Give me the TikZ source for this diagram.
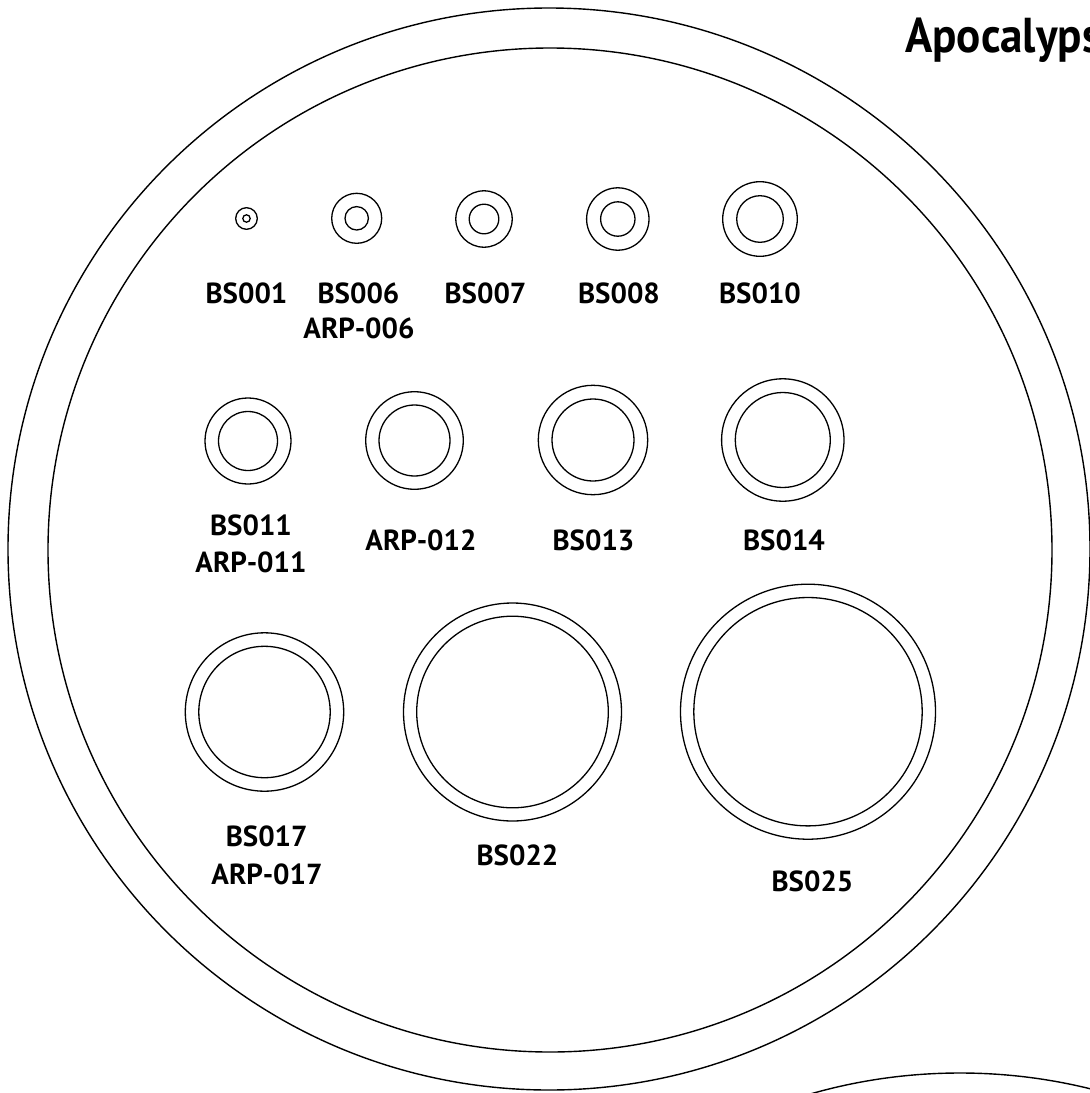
\documentclass[tikz,border=0pt]{standalone}
\usepackage{fontspec}
\setmainfont{PT Sans}
\begin{document}
\begin{tikzpicture}[x=1pt,y=-1pt,
  ring/.style={line width=1.3pt},
  disc/.style={line width=1.4pt},
  lab/.style={anchor=base,inner sep=0pt,font=\fontsize{29}{31}\selectfont\bfseries},
  ttl/.style={anchor=base west,inner sep=0pt,xscale=0.92,font=\fontsize{49}{53}\selectfont\bfseries}]
\useasboundingbox (0,0) rectangle (1090,1093);
% large discs
\draw[disc] (549,549) circle[radius=541pt];
\draw[disc] (550,550) circle[radius=502pt];
\draw[disc] (960,1614) circle[radius=541pt];
% title (cut at the right edge, as in the reference)
\node[ttl] (title) at (905,52) {Apocalyps};
% row 1
\draw[ring] (246.5,218.5) circle[radius=10.8pt] circle[radius=3.7pt];
\draw[ring] (356.7,218.3) circle[radius=25pt] circle[radius=11.7pt];
\draw[ring] (484,219) circle[radius=28.2pt] circle[radius=14.8pt];
\draw[ring] (617.8,219) circle[radius=31.2pt] circle[radius=17.2pt];
\draw[ring] (760,219) circle[radius=37.3pt] circle[radius=23.3pt];
\node[lab] (l001) at (246.5,303) {BS001};
\node[lab] (l006) at (358.5,303) {BS006};
\node[lab] (l006b) at (359,338) {ARP-006};
\node[lab] (l007) at (485.5,303) {BS007};
\node[lab] (l008) at (619,303) {BS008};
\node[lab] (l010) at (760,303) {BS010};
% row 2
\draw[ring] (248,441) circle[radius=43pt] circle[radius=29.5pt];
\draw[ring] (414.5,440.5) circle[radius=48.8pt] circle[radius=35.5pt];
\draw[ring] (593,440) circle[radius=54.7pt] circle[radius=41pt];
\draw[ring] (782.8,440) circle[radius=61.2pt] circle[radius=47.5pt];
\node[lab] (l011) at (251,535) {BS011};
\node[lab] (l011b) at (251,572.7) {ARP-011};
\node[lab] (l012) at (421,550) {ARP-012};
\node[lab] (l013) at (593.5,550) {BS013};
\node[lab] (l014) at (784,550) {BS014};
% row 3
\draw[ring] (264.5,712) circle[radius=79.2pt] circle[radius=65.7pt];
\draw[ring] (512.5,712) circle[radius=109pt] circle[radius=95.8pt];
\draw[ring] (808,711.7) circle[radius=127.5pt] circle[radius=114.2pt];
\node[lab] (l017) at (266.7,846.7) {BS017};
\node[lab] (l017b) at (267,884) {ARP-017};
\node[lab] (l022) at (517.5,865) {BS022};
\node[lab] (l025) at (812.5,891.7) {BS025};
\end{tikzpicture}
\end{document}
